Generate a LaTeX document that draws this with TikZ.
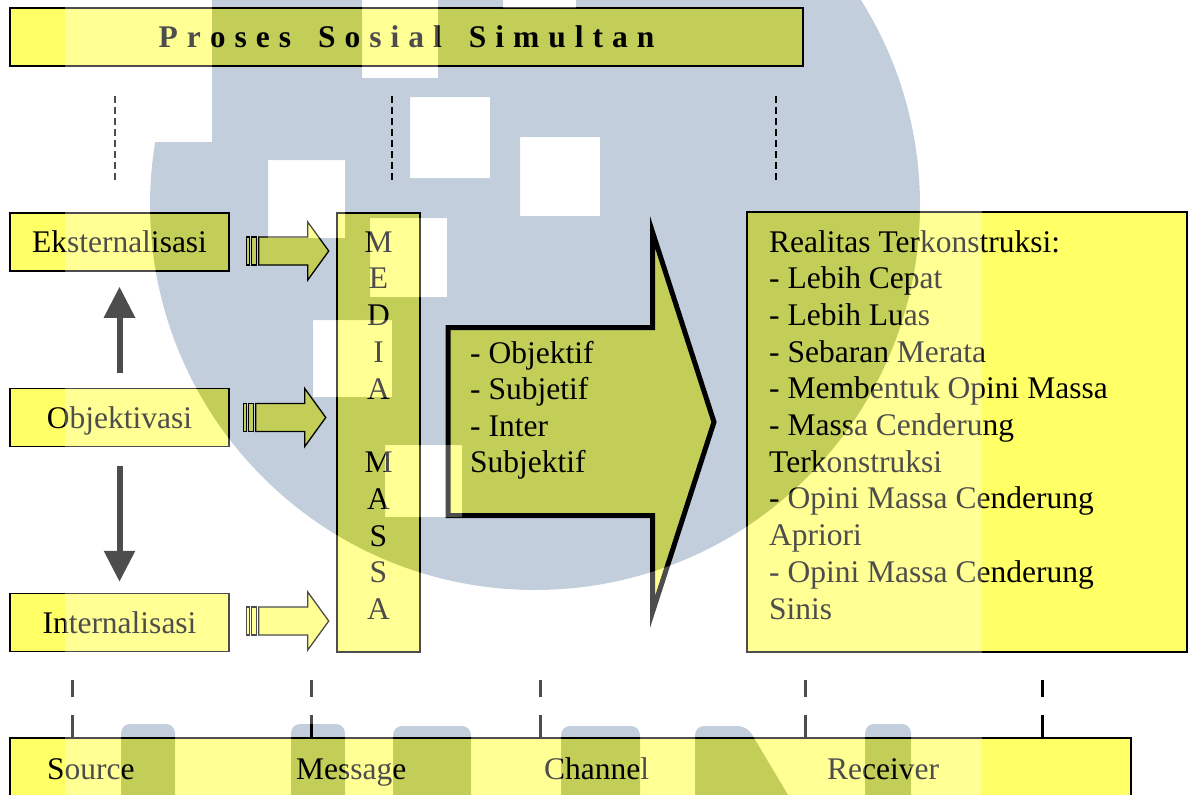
\documentclass[tikz,border=0pt]{standalone}
\usepackage{fontspec}
\setmainfont{Liberation Serif}
\usetikzlibrary{arrows.meta}
\definecolor{boxyellow}{HTML}{FFFF66}
\definecolor{wmgray}{HTML}{C2CEDC}
\newcommand\mainfs{\fontsize{31.5}{36.7}\selectfont}
\newcommand\tls{\hspace{9pt}}
\newcommand\twsp{\hspace{27pt}}
\tikzset{
  box/.style={draw=black, line width=1.5pt, fill=boxyellow, inner sep=0pt, text height=21pt, text depth=0pt},
  txtline/.style={inner sep=0pt, anchor=base west},
  guide/.style={black, line width=1.1pt, dash pattern=on 7pt off 4pt},
  tick/.style={black, line width=3pt, dash pattern=on 17pt off 18pt on 30pt off 1pt},
  vthick/.style={black, line width=6pt, -{Triangle[width=30pt,length=31pt]}},
  sarrow/.style={draw=black, line width=1.3pt, fill=boxyellow},
  bigarrow/.style={draw=black, line width=5pt, fill=boxyellow, line join=miter},
  stripearrow/.pic={
    \filldraw[sarrow] (0,-14) rectangle (3,14);
    \filldraw[sarrow] (5,-14) rectangle (10,14);
    \filldraw[sarrow] (12,-14) -- (61,-14) -- (61,-29) -- (82,0) -- (61,29) -- (61,14) -- (12,14) -- cycle;
  },
  wmsquares/.style={insert path={
    (140,-10) rectangle (212,142)
    (362,-10) rectangle (438,78)
    (503,-10) rectangle (576,8)
    (410,97) rectangle (490,178)
    (520,137) rectangle (600,216)
    (268,160) rectangle (345,238)
    (370,218) rectangle (447,297)
    (313,320) rectangle (392,397)
    (385,445) rectangle (462,517)}},
  wmletters/.style={insert path={
    [rounded corners=9pt]
    (121,724) rectangle (175,820)
    (291,724) rectangle (345,820)
    (393,726) rectangle (471,820)
    (561,726) rectangle (640,820)
    (695,820) -- (695,726) -- (747,726) -- (803,820) -- cycle
    (865,724) rectangle (911,820)}},
}
\begin{document}
\begin{tikzpicture}[x=1pt, y=-1pt, font=\mainfs]
\useasboundingbox (0,0) rectangle (1189,795);
\fill[white] (0,0) rectangle (1189,795);

% title
\node[box, minimum width=793pt, minimum height=58pt, font=\mainfs\bfseries] (title) at (406.5,37)
  {P\tls r\tls o\tls s\tls e\tls s\twsp S\tls o\tls s\tls i\tls a\tls l\twsp S\tls i\tls m\tls u\tls l\tls t\tls a\tls n};

% top guides
\coordinate (g1a) at (115,96);  \coordinate (g1b) at (115,183);
\coordinate (g2a) at (392,96);  \coordinate (g2b) at (392,183);
\coordinate (g3a) at (776,96);  \coordinate (g3b) at (776,183);
\draw[guide] (g1a) -- (g1b);
\draw[guide] (g2a) -- (g2b);
\draw[guide] (g3a) -- (g3b);

% left boxes
\node[box, minimum width=219pt, minimum height=58pt] (eks) at (119.5,242) {Eksternalisasi};
\node[box, minimum width=219pt, minimum height=58pt] (obj) at (119.5,417.5) {Objektivasi};
\node[box, minimum width=219pt, minimum height=58pt] (int) at (119.5,622.5) {Internalisasi};

\draw[vthick] ([yshift=15pt]obj.north) -- ([yshift=-15pt]eks.south);
\draw[vthick] ([yshift=-19pt]obj.south) -- ([yshift=11pt]int.north);

% media box
\node[box, minimum width=83pt, minimum height=439pt] (media) at (378.5,432.5) {};
\foreach \l [count=\i from 0] in {M,E,D,I,A,{},M,A,S,S,A}
  \node[inner sep=0pt, anchor=base] (ml\i) at (378.5,{252+36.75*\i}) {\l};

% striped arrows
\pic at ([xshift=17pt,yshift=-9pt]eks.east) {stripearrow};
\pic at ([xshift=14pt]obj.east) {stripearrow};
\pic at ([xshift=17pt,yshift=1.5pt]int.east) {stripearrow};

% big arrow
\draw[bigarrow] (448,327.5) -- (652.5,327.5) -- (652.5,232) -- (714,422) -- (652.5,612) -- (652.5,515.5) -- (448,515.5) -- cycle;
\foreach \t [count=\i from 0] in {- Objektif,- Subjetif,- Inter,Subjektif}
  \node[txtline] (a\i) at (470,{363+36.5*\i}) {\t};

% right box
\node[box, minimum width=440pt, minimum height=440pt] (real) at (967,432) {};
\foreach \t [count=\i from 0] in {Realitas Terkonstruksi:,- Lebih Cepat,- Lebih Luas,- Sebaran Merata,- Membentuk Opini Massa,- Massa Cenderung,Terkonstruksi,- Opini Massa Cenderung,Apriori,- Opini Massa Cenderung,Sinis}
  \node[txtline] (r\i) at (769,{252+36.7*\i}) {\t};

% bottom bar
\node[box, minimum width=1121pt, minimum height=80pt] (bar) at (570.5,778) {};
\node[txtline] (src) at (47,779) {Source};
\node[txtline] (msg) at (296,779) {Message};
\node[txtline] (chn) at (544,779) {Channel};
\node[txtline] (rcv) at (827,779) {Receiver};

\coordinate (b1) at (72,680);
\coordinate (b2) at (311,680);
\coordinate (b3) at (540,680);
\coordinate (b4) at (805,680);
\coordinate (b5) at (1042,680);
\foreach \b in {b1,b2,b3,b4,b5}
  \draw[tick] (\b) -- (\b |- bar.north);

% watermark (background logo seen through)
\begin{scope}[blend mode=multiply]
  \begin{scope}
    \clip (535,205) circle (385pt);
    \fill[wmgray, even odd rule] (-10,-10) rectangle (1200,810) [wmsquares];
  \end{scope}
  \fill[wmgray] [wmletters];
\end{scope}
\begin{scope}
  \clip (65,-10) rectangle (982,810);
  \fill[white, fill opacity=0.3, even odd rule] (-10,-10) rectangle (1200,810) (535,205) circle (385pt) [wmletters];
  \clip (535,205) circle (385pt);
  \fill[white, fill opacity=0.3] [wmsquares];
\end{scope}
\end{tikzpicture}
\end{document}
